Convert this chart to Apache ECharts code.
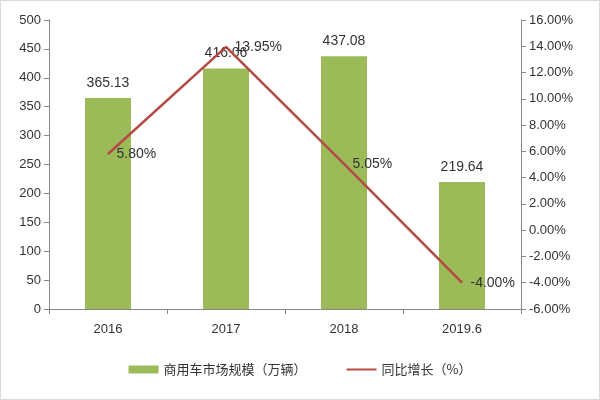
<!DOCTYPE html>
<html>
<head>
<meta charset="utf-8">
<script src="https://cdn.jsdelivr.net/npm/echarts@6/dist/echarts.min.js"></script>
<style>
  html, body { margin: 0; padding: 0; background: #fff; }
  #chart { width: 598px; height: 398px; border: 1px solid #d9d9d9; }
</style>
</head>
<body>
<div id="chart"></div>
<script>
let years = ['2016', '2017', '2018', '2019.6'];
let marketSize = [365.13, 416.06, 437.08, 219.64];
let yoyGrowth = [5.80, 13.95, 5.05, -4.00];

let chart = echarts.init(document.getElementById('chart'));
let labelColor = '#333';
let font = 'Liberation Sans, Arial, sans-serif';

// label nudges for the growth line, like the original
let lineLabelOffsets = [[0, 0], [0, 44], [0, 0], [-4, 0]];

chart.setOption({
    textStyle: { fontFamily: font },
    grid: { top: 19, bottom: 90, left: 48, right: 78 },
    legend: {
        bottom: 18,
        itemGap: 40,
        textStyle: { fontSize: 13, color: labelColor, fontFamily: 'Noto Sans CJK SC' },
        data: [
            { name: '商用车市场规模（万辆）', icon: 'rect' },
            { name: '同比增长（%）', icon: 'path://M0,4 L30,4 L30,6 L0,6 Z' }
        ],
        itemWidth: 30, itemHeight: 8
    },
    xAxis: {
        type: 'category',
        data: years,
        axisTick: { show: true, lineStyle: { color: '#888' } },
        axisLine: { lineStyle: { color: '#888' } },
        axisLabel: { color: labelColor, fontSize: 13, margin: 14 }
    },
    yAxis: [{
        type: 'value', min: 0, max: 500, interval: 50,
        axisLine: { show: true, lineStyle: { color: '#888' } },
        axisTick: { show: true, lineStyle: { color: '#888' } },
        splitLine: { show: false },
        axisLabel: { color: labelColor, fontSize: 13 }
    }, {
        type: 'value', min: -6, max: 16, interval: 2,
        axisLine: { show: true, lineStyle: { color: '#888' } },
        axisTick: { show: true, lineStyle: { color: '#888' } },
        splitLine: { show: false },
        axisLabel: { color: labelColor, fontSize: 13, formatter: function (v) { return v.toFixed(2) + '%'; } }
    }],
    series: [{
        name: '商用车市场规模（万辆）',
        type: 'bar',
        barWidth: 46,
        itemStyle: { color: '#9bbb59' },
        label: { show: true, position: 'top', color: labelColor, fontSize: 14, distance: 8 },
        data: marketSize
    }, {
        name: '同比增长（%）',
        type: 'line',
        yAxisIndex: 1,
        symbol: 'circle',
        symbolSize: 1,
        showSymbol: true,
        z: 5,
        lineStyle: { color: '#b54a45', width: 2.5 },
        itemStyle: { color: '#b54a45' },
        labelLayout: { hideOverlap: false },
        data: yoyGrowth.map(function (v, i) {
            return {
                value: v,
                label: {
                    show: true, position: 'right', color: labelColor, fontSize: 14, distance: 8,
                    offset: lineLabelOffsets[i],
                    formatter: function (p) { return p.value.toFixed(2) + '%'; }
                }
            };
        })
    }]
});
</script>
</body>
</html>
